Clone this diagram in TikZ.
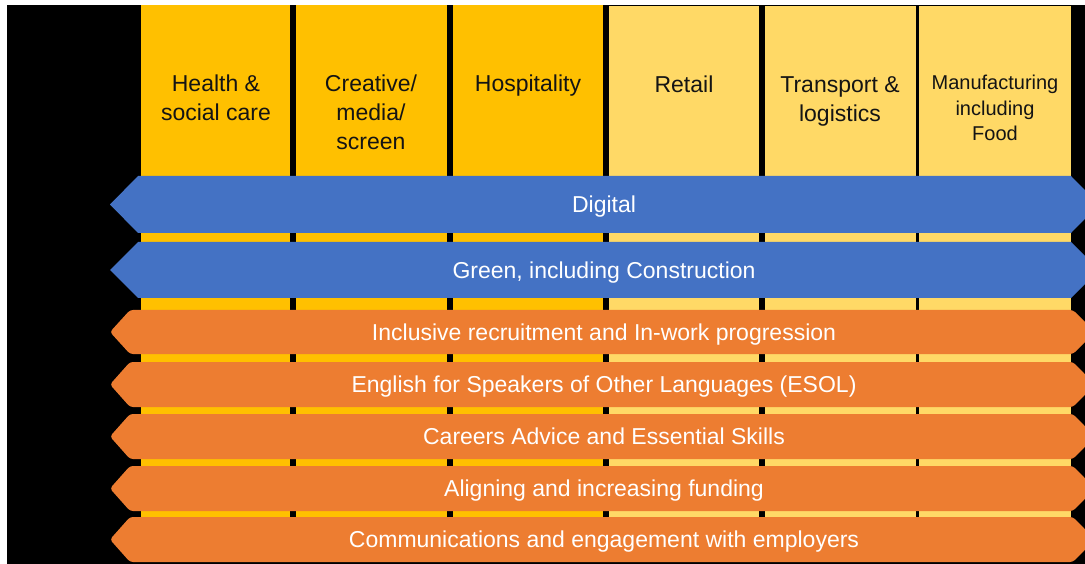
\documentclass[tikz,border=0pt]{standalone}
\usepackage{fontspec}
\setmainfont{Liberation Sans}
\definecolor{darkyel}{HTML}{FFC000}
\definecolor{lightyel}{HTML}{FFD966}
\definecolor{bandblue}{HTML}{4472C4}
\definecolor{bandorange}{HTML}{ED7D31}
\definecolor{coltext}{HTML}{141414}
\tikzset{
  coltxt/.style={anchor=north, inner sep=0pt, align=center, text=coltext, font=\fontsize{23}{29}\selectfont},
  smallcoltxt/.style={anchor=north, inner sep=0pt, align=center, text=coltext, font=\fontsize{20}{25.5}\selectfont},
  bandtxt/.style={inner sep=0pt, text=white, font=\fontsize{23}{28}\selectfont, text height=16.5pt, text depth=0pt},
  blueband/.style={fill=bandblue},
  orangeband/.style={fill=bandorange, rounded corners=3pt}
}
\begin{document}
\begin{tikzpicture}[x=1pt,y=-1pt]
\useasboundingbox (0,0) rectangle (1085,564);
\clip (0,0) rectangle (1085,564);
\fill[white] (0,0) rectangle (1085,564);
\fill[black] (7,5) rectangle (1085,564);
% columns
\fill[darkyel] (141,5) rectangle (290,540);
\fill[darkyel] (296,5) rectangle (447,540);
\fill[darkyel] (453,5) rectangle (603,540);
\fill[lightyel] (609,6) rectangle (759,540);
\fill[lightyel] (765,6) rectangle (916,540);
\fill[lightyel] (919,6) rectangle (1071,540);
\node[coltxt] (c1) at (216,75) {Health \&\\social care};
\node[coltxt] (c2) at (371,75) {Creative/\\media/\\screen};
\node[coltxt] (c3) at (528,75) {Hospitality};
\node[coltxt] (c4) at (684,76) {Retail};
\node[coltxt] (c5) at (840,76) {Transport \&\\logistics};
\node[smallcoltxt] (c6) at (995,75) {Manufacturing\\including\\Food};
% blue bands
\fill[blueband] (138,176) -- (1071,176) -- (1099,204.5) -- (1071,233) -- (138,233) -- (110,204.5) -- cycle;
\node[bandtxt] (digital) at (604,204.5) {Digital};
\fill[blueband] (138,242) -- (1071,242) -- (1099,270) -- (1071,298) -- (138,298) -- (110,270) -- cycle;
\node[bandtxt] (green) at (604,270) {Green, including Construction};
% orange bands
\foreach \t/\b/\name/\txt in {310/354/o1/{Inclusive recruitment and In-work progression},
  362/407/o2/{English for Speakers of Other Languages (ESOL)},
  414/459/o3/{Careers Advice and Essential Skills},
  466/511/o4/{Aligning and increasing funding},
  517/562/o5/{Communications and engagement with employers}}{
  \pgfmathsetmacro{\m}{(\t+\b)/2}
  \fill[orangeband] (130,\t) -- (1073,\t) -- (1095,\m) -- (1073,\b) -- (130,\b) -- (110,\m) -- cycle;
  \node[bandtxt] (\name) at (604,\m) {\txt};
}
\end{tikzpicture}
\end{document}
